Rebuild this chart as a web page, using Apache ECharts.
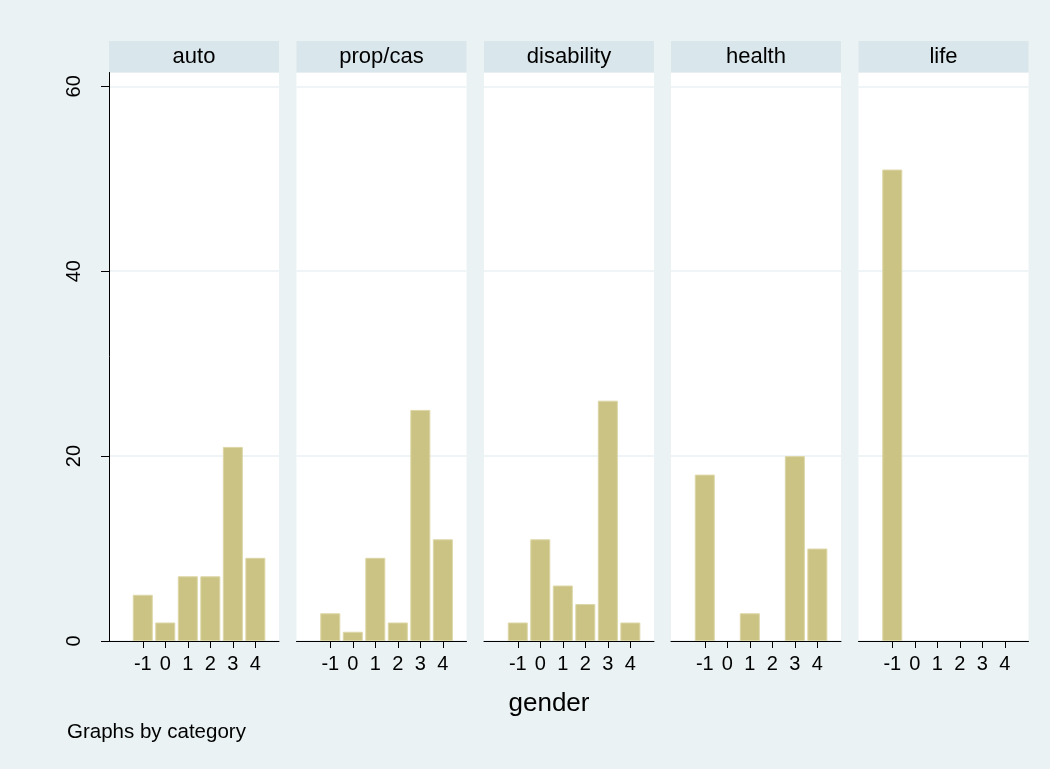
<!DOCTYPE html>
<html>
<head>
<meta charset="utf-8">
<style>
html, body { margin: 0; padding: 0; background: #eaf2f3; }
#chart { width: 1050px; height: 769px; }
</style>
</head>
<body>
<div id="chart"></div>
<script src="https://cdn.jsdelivr.net/npm/echarts@6/dist/echarts.min.js"></script>
<script>
// categories (panels) and gender values on x
const categories = ["auto", "prop/cas", "disability", "health", "life"];
const genders = [-1, 0, 1, 2, 3, 4];
const yTicks = [0, 20, 40, 60];

// counts per gender, one array per panel
const autoCounts = [5, 2, 7, 7, 21, 9];
const propCasCounts = [3, 1, 9, 2, 25, 11];
const disabilityCounts = [2, 11, 6, 4, 26, 2];
const healthCounts = [18, 0, 3, 0, 20, 10];
const lifeCounts = [51, 0, 0, 0, 0, 0];

const counts = [autoCounts, propCasCounts, disabilityCounts, healthCounts, lifeCounts];

const font = "Liberation Sans, Arial, sans-serif";
const panelLeft = [109, 296.5, 484, 671, 858.5];
const panelWidth = 170;
const plotTop = 72.5;
const plotBottom = 641;
const headerTop = 41;

const grids = [], xAxes = [], yAxes = [], series = [], graphics = [];

categories.forEach((cat, i) => {
  grids.push({
    left: panelLeft[i],
    width: panelWidth,
    top: plotTop,
    height: plotBottom - plotTop,
    show: true,
    backgroundColor: "#ffffff",
    borderWidth: 0
  });
  xAxes.push({
    type: "value",
    gridIndex: i,
    position: "bottom",
    min: -2.5,
    max: 5.05,
    axisLine: { show: true, onZero: false, lineStyle: { color: "#000", width: 1 } },
    axisTick: { show: true, customValues: genders, length: 7, lineStyle: { color: "#000", width: 1 } },
    axisLabel: { customValues: genders, color: "#000", fontSize: 20, fontFamily: font, margin: 13 },
    splitLine: { show: false }
  });
  yAxes.push({
    type: "value",
    gridIndex: i,
    position: "left",
    min: 0,
    max: 61.5,
    axisLine: { show: i === 0, onZero: false, lineStyle: { color: "#000", width: 1 } },
    axisTick: { show: i === 0, customValues: yTicks, length: 8, lineStyle: { color: "#000" } },
    axisLabel: {
      show: i === 0,
      customValues: yTicks,
      rotate: 90,
      color: "#000",
      fontSize: 20,
      fontFamily: font,
      margin: 25
    },
    splitLine: { show: true, lineStyle: { color: "#eaf2f3", width: 1.5 } }
  });
  series.push({
    type: "bar",
    xAxisIndex: i,
    yAxisIndex: i,
    barWidth: 20,
    // empty gender cells draw nothing, as in the original
    data: genders.map((g, k) => [g, counts[i][k]]).filter(d => d[1] > 0),
    itemStyle: { color: "#cbc384", borderColor: "#ddd6a6", borderWidth: 1 },
    silent: true
  });
  // panel header strip
  graphics.push({
    type: "rect",
    shape: { x: panelLeft[i], y: headerTop, width: panelWidth, height: plotTop - headerTop },
    style: { fill: "#d9e6eb" }
  });
  graphics.push({
    type: "text",
    x: panelLeft[i] + panelWidth / 2,
    y: (headerTop + plotTop) / 2,
    style: {
      text: cat, fill: "#000", font: "22px " + font,
      textAlign: "center", textVerticalAlign: "middle"
    }
  });
});

graphics.push({
  type: "text",
  x: 549, y: 704,
  style: { text: "gender", fill: "#000", font: "26px " + font, textAlign: "center", textVerticalAlign: "middle" }
});
graphics.push({
  type: "text",
  x: 67, y: 732,
  style: { text: "Graphs by category", fill: "#000", font: "20.5px " + font, textAlign: "left", textVerticalAlign: "middle" }
});

const chart = echarts.init(document.getElementById("chart"));
chart.setOption({
  backgroundColor: "#eaf2f3",
  animation: false,
  grid: grids,
  xAxis: xAxes,
  yAxis: yAxes,
  series: series,
  graphic: graphics
});
</script>
</body>
</html>
